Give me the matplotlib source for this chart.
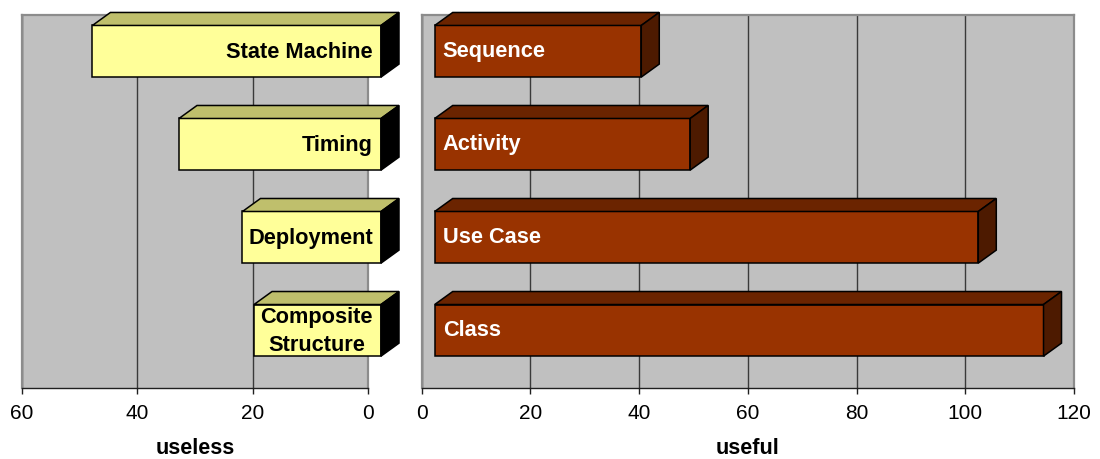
import matplotlib
matplotlib.use("Agg")
import matplotlib.pyplot as plt
from matplotlib.patches import Polygon
from matplotlib.transforms import IdentityTransform, ScaledTranslation

plt.rcParams["font.family"] = ["Liberation Sans", "DejaVu Sans"]

# Diagram types rated useless / useful
useless_labels = ["State Machine", "Timing", "Deployment", "Composite\nStructure"]
useless_counts = [50, 35, 24, 22]
useful_labels = ["Sequence", "Activity", "Use Case", "Class"]
useful_counts = [38, 47, 100, 112]

useless_ticks = [60, 40, 20, 0]
useful_ticks = [0, 20, 40, 60, 80, 100, 120]

DPI = 100
W, H = 1100, 459
fig = plt.figure(figsize=(W / DPI, H / DPI), dpi=DPI)
fig.patch.set_facecolor("white")

top_px, bot_px = 15, 388
axL = fig.add_axes([21.7 / W, 1 - bot_px / H, (368 - 21.7) / W, (bot_px - top_px) / H])
axR = fig.add_axes([421.7 / W, 1 - bot_px / H, (1074 - 421.7) / W, (bot_px - top_px) / H])

BAR_H = 0.555
SHIFT = 13       # front face offset to the right, pixels
DX, DY = 18, 13  # depth of the 3D boxes, pixels
LABEL_SIZE = 15.7


def style_axis(ax, xlim, ticks, title):
    ax.set_facecolor("#C0C0C0")
    ax.set_xlim(*xlim)
    ax.set_ylim(3.62, -0.39)
    ax.set_xticks(ticks)
    ax.set_xticklabels([str(t) for t in ticks], fontsize=15)
    ax.set_yticks([])
    ax.set_axisbelow(True)
    ax.xaxis.grid(True, color="#3a3a3a", linewidth=1.0)
    for s in ("left", "top", "right"):
        ax.spines[s].set_color("#8c8c8c")
        ax.spines[s].set_linewidth(1.6)
    ax.spines["bottom"].set_color("#202020")
    ax.spines["bottom"].set_linewidth(1.0)
    ax.tick_params(axis="x", direction="out", length=4.5, width=1.0,
                   color="#202020", pad=7, labelcolor="black")
    ax.set_xlabel(title, fontsize=15.5, fontweight="bold", labelpad=11)


def draw_box(ax, start, end, pos, front_c, top_c, side_c):
    T = ax.transData
    p0 = T.transform((start, pos - BAR_H / 2))
    p1 = T.transform((end, pos + BAR_H / 2))
    xl, xr = sorted([p0[0], p1[0]])
    yb, yt = sorted([p0[1], p1[1]])
    xl += SHIFT
    xr += SHIFT
    faces = [
        ([(xl, yb), (xr, yb), (xr, yt), (xl, yt)], front_c),
        ([(xl, yt), (xr, yt), (xr + DX, yt + DY), (xl + DX, yt + DY)], top_c),
        ([(xr, yb), (xr + DX, yb + DY), (xr + DX, yt + DY), (xr, yt)], side_c),
    ]
    for pts, c in faces:
        ax.add_patch(Polygon(pts, closed=True, transform=IdentityTransform(),
                             facecolor=c, edgecolor="black", linewidth=1.1,
                             joinstyle="miter", clip_on=False, zorder=3))


style_axis(axL, (60, 0), useless_ticks, "useless")
style_axis(axR, (0, 120), useful_ticks, "useful")

for i, (lab, v) in enumerate(zip(useless_labels, useless_counts)):
    draw_box(axL, v, 0, i, "#FFFF99", "#BFBF6C", "#000000")
    tr = axL.transData + ScaledTranslation(5 / DPI, -1 / DPI, fig.dpi_scale_trans)
    axL.text(0, i, lab, transform=tr, ha="right", va="center",
             multialignment="center", fontsize=LABEL_SIZE, fontweight="bold",
             color="black", zorder=5, linespacing=1.4)

for i, (lab, v) in enumerate(zip(useful_labels, useful_counts)):
    draw_box(axR, 0, v, i, "#993300", "#6B2400", "#4D1A00")
    tr = axR.transData + ScaledTranslation(21 / DPI, 0, fig.dpi_scale_trans)
    axR.text(0, i, lab, transform=tr, ha="left", va="center",
             fontsize=LABEL_SIZE, fontweight="bold", color="white", zorder=5)

fig.savefig("out.png", dpi=DPI, facecolor="white")
